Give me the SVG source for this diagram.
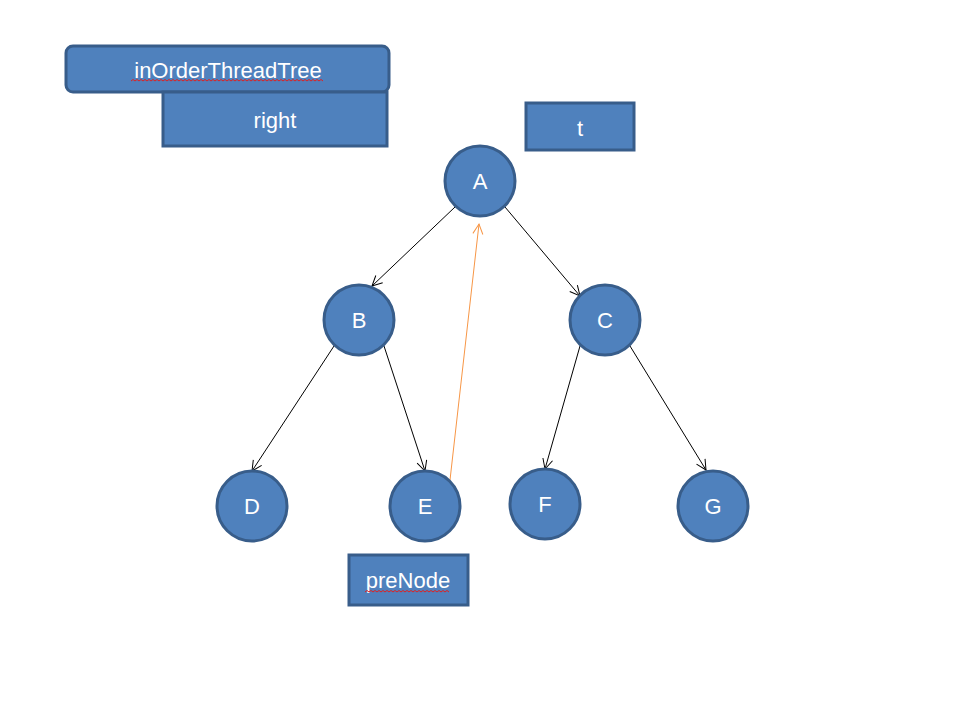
<svg xmlns="http://www.w3.org/2000/svg" width="974" height="728" viewBox="0 0 974 728">
<style>
.box{fill:#4F81BD;stroke:#385D8A;stroke-width:3}
.lbl{fill:#fff;font-family:"Liberation Sans",Arial,sans-serif;font-size:22px;text-anchor:middle;dominant-baseline:central}
.edge{stroke:#000;stroke-width:1;fill:none;marker-end:url(#ah)}
.thread{stroke:#F79646;stroke-width:1;fill:none;marker-end:url(#aho)}
.sq{stroke:#E02020;stroke-width:1;fill:none}
</style>
<defs>
<marker id="ah" viewBox="0 0 12 12" refX="11" refY="6" markerWidth="12" markerHeight="12" markerUnits="userSpaceOnUse" orient="auto">
<path d="M1,1 L11,6 L1,11" fill="none" stroke="#000" stroke-width="1"/>
</marker>
<marker id="aho" viewBox="0 0 12 12" refX="11" refY="6" markerWidth="12" markerHeight="12" markerUnits="userSpaceOnUse" orient="auto">
<path d="M1,1 L11,6 L1,11" fill="none" stroke="#F79646" stroke-width="1"/>
</marker>
</defs>
<rect width="974" height="728" fill="#fff"/>
<g id="connectors">
<line class="edge" x1="455" y1="207" x2="372" y2="286"/>
<line class="edge" x1="505" y1="207" x2="580" y2="296"/>
<line class="edge" x1="334" y1="346" x2="252" y2="471"/>
<line class="edge" x1="384" y1="346" x2="425" y2="471"/>
<line class="edge" x1="580" y1="346" x2="545" y2="469"/>
<line class="edge" x1="630" y1="346" x2="706" y2="470"/>
<line class="thread" x1="450" y1="480" x2="479" y2="224"/>
</g>
<g id="node-inOrderThreadTree">
<rect class="box" x="66" y="46" width="323" height="46" rx="7"/>
<text class="lbl" x="228" y="70">inOrderThreadTree</text>
<path class="sq" d="M131,81 l2,-1.5 l2,1.5 l2,-1.5 l2,1.5 l2,-1.5 l2,1.5 l2,-1.5 l2,1.5 l2,-1.5 l2,1.5 l2,-1.5 l2,1.5 l2,-1.5 l2,1.5 l2,-1.5 l2,1.5 l2,-1.5 l2,1.5 l2,-1.5 l2,1.5 l2,-1.5 l2,1.5 l2,-1.5 l2,1.5 l2,-1.5 l2,1.5 l2,-1.5 l2,1.5 l2,-1.5 l2,1.5 l2,-1.5 l2,1.5 l2,-1.5 l2,1.5 l2,-1.5 l2,1.5 l2,-1.5 l2,1.5 l2,-1.5 l2,1.5 l2,-1.5 l2,1.5 l2,-1.5 l2,1.5 l2,-1.5 l2,1.5 l2,-1.5 l2,1.5 l2,-1.5 l2,1.5 l2,-1.5 l2,1.5 l2,-1.5 l2,1.5 l2,-1.5 l2,1.5 l2,-1.5 l2,1.5 l2,-1.5 l2,1.5 l2,-1.5 l2,1.5 l2,-1.5 l2,1.5 l2,-1.5 l2,1.5 l2,-1.5 l2,1.5 l2,-1.5 l2,1.5 l2,-1.5 l2,1.5 l2,-1.5 l2,1.5 l2,-1.5 l2,1.5 l2,-1.5 l2,1.5 l2,-1.5 l2,1.5 l2,-1.5 l2,1.5 l2,-1.5 l2,1.5 l2,-1.5 l2,1.5 l2,-1.5 l2,1.5 l2,-1.5 l2,1.5 l2,-1.5 l2,1.5 l2,-1.5 l2,1.5 l2,-1.5 l2,1.5"/>
</g>
<g id="node-right">
<rect class="box" x="163" y="92" width="224" height="54"/>
<text class="lbl" x="275" y="120">right</text>
</g>
<g id="node-t">
<rect class="box" x="526" y="103" width="108" height="47"/>
<text class="lbl" x="580" y="128">t</text>
</g>
<g id="node-A"><circle class="box" cx="480" cy="181" r="35"/><text class="lbl" x="480" y="181">A</text></g>
<g id="node-B"><circle class="box" cx="359" cy="320" r="35"/><text class="lbl" x="359" y="320">B</text></g>
<g id="node-C"><circle class="box" cx="605" cy="320" r="35"/><text class="lbl" x="605" y="320">C</text></g>
<g id="node-D"><circle class="box" cx="252" cy="506" r="35"/><text class="lbl" x="252" y="506">D</text></g>
<g id="node-E"><circle class="box" cx="425" cy="506" r="35"/><text class="lbl" x="425" y="506">E</text></g>
<g id="node-F"><circle class="box" cx="545" cy="504" r="35"/><text class="lbl" x="545" y="504">F</text></g>
<g id="node-G"><circle class="box" cx="713" cy="506" r="35"/><text class="lbl" x="713" y="506">G</text></g>
<g id="node-preNode">
<rect class="box" x="349" y="555" width="119" height="50"/>
<text class="lbl" x="408" y="580">preNode</text>
<path class="sq" d="M365,592 l2,-1.5 l2,1.5 l2,-1.5 l2,1.5 l2,-1.5 l2,1.5 l2,-1.5 l2,1.5 l2,-1.5 l2,1.5 l2,-1.5 l2,1.5 l2,-1.5 l2,1.5 l2,-1.5 l2,1.5 l2,-1.5 l2,1.5 l2,-1.5 l2,1.5 l2,-1.5 l2,1.5 l2,-1.5 l2,1.5 l2,-1.5 l2,1.5 l2,-1.5 l2,1.5 l2,-1.5 l2,1.5 l2,-1.5 l2,1.5 l2,-1.5 l2,1.5 l2,-1.5 l2,1.5 l2,-1.5 l2,1.5 l2,-1.5 l2,1.5 l2,-1.5 l2,1.5"/>
</g>
</svg>
